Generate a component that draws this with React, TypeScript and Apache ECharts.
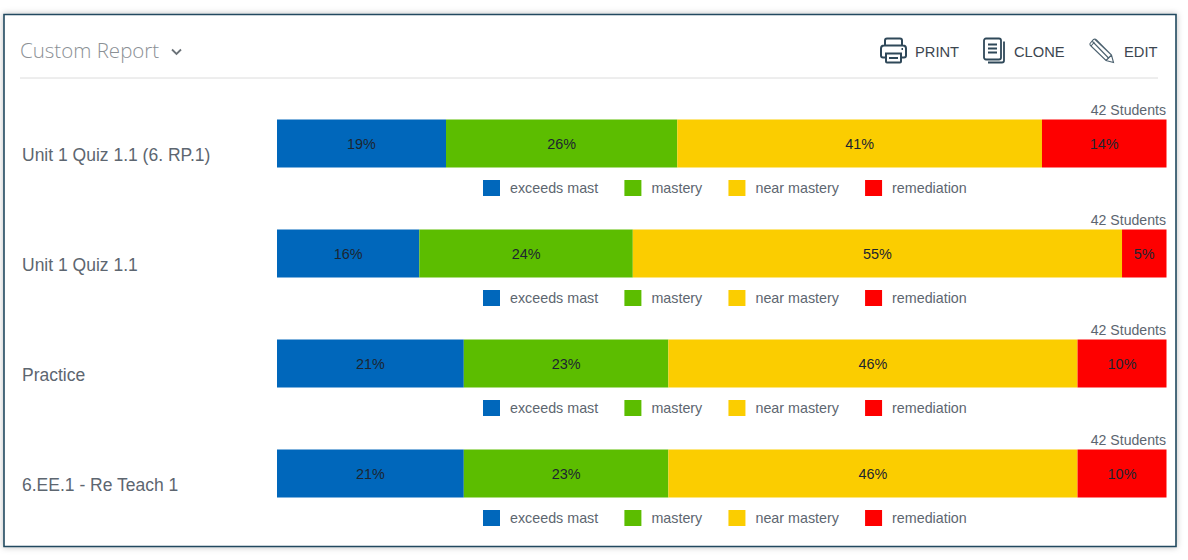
import React, { useEffect, useRef } from "react";
import * as echarts from "echarts";

const reportNames = ["Unit 1 Quiz 1.1 (6. RP.1)", "Unit 1 Quiz 1.1", "Practice", "6.EE.1 - Re Teach 1"];
const levelNames = ["exceeds mast", "mastery", "near mastery", "remediation"];
const levelColors = ["#0067bb", "#5cbd00", "#fbcd00", "#fe0000"];
const exceedsValues = [19, 16, 21, 21];
const masteryValues = [26, 24, 23, 23];
const nearMasteryValues = [41, 55, 46, 46];
const remediationValues = [14, 5, 10, 10];
const studentLabels = ["42 Students", "42 Students", "42 Students", "42 Students"];
const levelValues = [exceedsValues, masteryValues, nearMasteryValues, remediationValues];

const FONT = '"Liberation Sans", Arial, sans-serif';
const ICON = "#2f4859";

echarts.graphic.registerShape("printerIcon", echarts.graphic.extendPath(
  "M6 20H3a2 2 0 0 1-2-2V11a3 3 0 0 1 3-3H23a3 3 0 0 1 3 3V18a2 2 0 0 1-2 2H21 M5 8V3a2 2 0 0 1 2-2H20a2 2 0 0 1 2 2V8 M6 16H21V24a1 1 0 0 1-1 1H7a1 1 0 0 1-1-1Z M9 20.5H18 M21.5 11.5H23",
  {} as any) as any);
echarts.graphic.registerShape("cloneIcon", echarts.graphic.extendPath(
  "M3 1H16a2 2 0 0 1 2 2V20a2 2 0 0 1-2 2H3a2 2 0 0 1-2-2V3a2 2 0 0 1 2-2Z M5 7H14 M5 11H14 M5 15H14 M21 4V23a2 2 0 0 1-2 2H5",
  {} as any) as any);
echarts.graphic.registerShape("pencilIcon", echarts.graphic.extendPath(
  "M1 5.5L4.5 1.5Q6 0.5 7.5 2L22.5 17L24.5 24.5L17 22.5L2 8Q0.5 7 1 5.5Z M3.5 3.5L20 20.5 M6 1.5L22.5 17 M2 8L5.5 4 M17 22.5L22.5 17",
  {} as any) as any);

export default function App() {
  const ref = useRef<HTMLDivElement>(null);
  useEffect(() => {
    const chart = echarts.init(ref.current!, undefined, { renderer: "svg" });
    const tops = [119.5, 229.5, 339.5, 449.5];
    const series: any[] = [];
    tops.forEach((_, g) => {
      levelNames.forEach((name, l) => {
        series.push({
          type: "bar",
          name,
          stack: "row" + g,
          xAxisIndex: g,
          yAxisIndex: g,
          barWidth: 48,
          data: [levelValues[l][g]],
          itemStyle: { color: levelColors[l] },
          label: {
            show: true,
            position: "inside",
            formatter: "{c}%",
            color: "#1c2530",
            fontFamily: FONT,
            fontSize: 14.4,
          },
        });
      });
    });
    chart.setOption({
      animation: false,
      backgroundColor: "#ffffff",
      grid: tops.map((top) => ({ left: 277, top, width: 889.5, height: 48 })),
      xAxis: tops.map((_, g) => ({
        type: "value",
        gridIndex: g,
        min: 0,
        max: 100,
        show: false,
      })),
      yAxis: tops.map((_, g) => ({
        type: "category",
        gridIndex: g,
        data: [reportNames[g]],
        axisLine: { show: false },
        axisTick: { show: false },
        axisLabel: {
          align: "left",
          verticalAlign: "top",
          lineHeight: 23,
          margin: 255,
          color: "#5d6670",
          fontFamily: FONT,
          fontSize: 17.5,
        },
      })),
      legend: tops.map((top) => ({
        left: 483,
        top: top + 60.5,
        padding: 0,
        orient: "horizontal",
        itemWidth: 17,
        itemHeight: 16,
        itemGap: 26.2,
        selectedMode: false,
        icon: "rect",
        data: levelNames,
        textStyle: {
          color: "#5d6670",
          fontFamily: FONT,
          fontSize: 14.3,
          padding: [0, 0, 0, 5],
        },
      })),
      series,
      graphic: [
        {
          type: "rect",
          z: -10,
          shape: { x: 4, y: 14.5, width: 1172, height: 532 },
          style: {
            fill: "#fff",
            stroke: "#234a60",
            lineWidth: 1.6,
            shadowBlur: 6,
            shadowColor: "rgba(0,0,0,0.25)",
          },
        },
        {
          type: "text",
          x: 20,
          y: 50,
          style: {
            text: "Custom Report",
            fill: "#8b9095",
            fontFamily: '"Open Sans", sans-serif',
            fontWeight: 300,
            fontSize: 20.5,
            verticalAlign: "middle",
          },
        },
        {
          type: "polyline",
          shape: { points: [[172, 49.5], [176.5, 54], [181, 49.5]] },
          style: { stroke: "#6b7278", lineWidth: 1.8, fill: "none" },
        },
        {
          type: "line",
          shape: { x1: 20, y1: 78, x2: 1158, y2: 78 },
          style: { stroke: "#dcdcdc", lineWidth: 1 },
        },
        { type: "printerIcon", x: 880, y: 37.5, style: { fill: "none", stroke: ICON, lineWidth: 2 } },
        { type: "cloneIcon", x: 983, y: 37.5, style: { fill: "none", stroke: ICON, lineWidth: 1.8 } },
        { type: "pencilIcon", x: 1089, y: 38, style: { fill: "none", stroke: "#4d6270", lineWidth: 1.1 } },
        ...[["PRINT", 915], ["CLONE", 1014], ["EDIT", 1124]].map(([text, x]) => ({
          type: "text",
          x,
          y: 51.5,
          style: {
            text,
            fill: "#3c4650",
            fontFamily: FONT,
            fontSize: 14.7,
            verticalAlign: "middle",
          },
        })),
        ...tops.map((top, g) => ({
          type: "text",
          x: 1166,
          y: top - 10,
          style: {
            text: studentLabels[g],
            fill: "#5d6670",
            fontFamily: FONT,
            fontSize: 14.1,
            align: "right",
            verticalAlign: "middle",
          },
        })),
      ],
    });
    return () => chart.dispose();
  }, []);
  return <div ref={ref} style={{ position: "fixed", left: 0, top: 0, width: 1188, height: 560 }} />;
}
